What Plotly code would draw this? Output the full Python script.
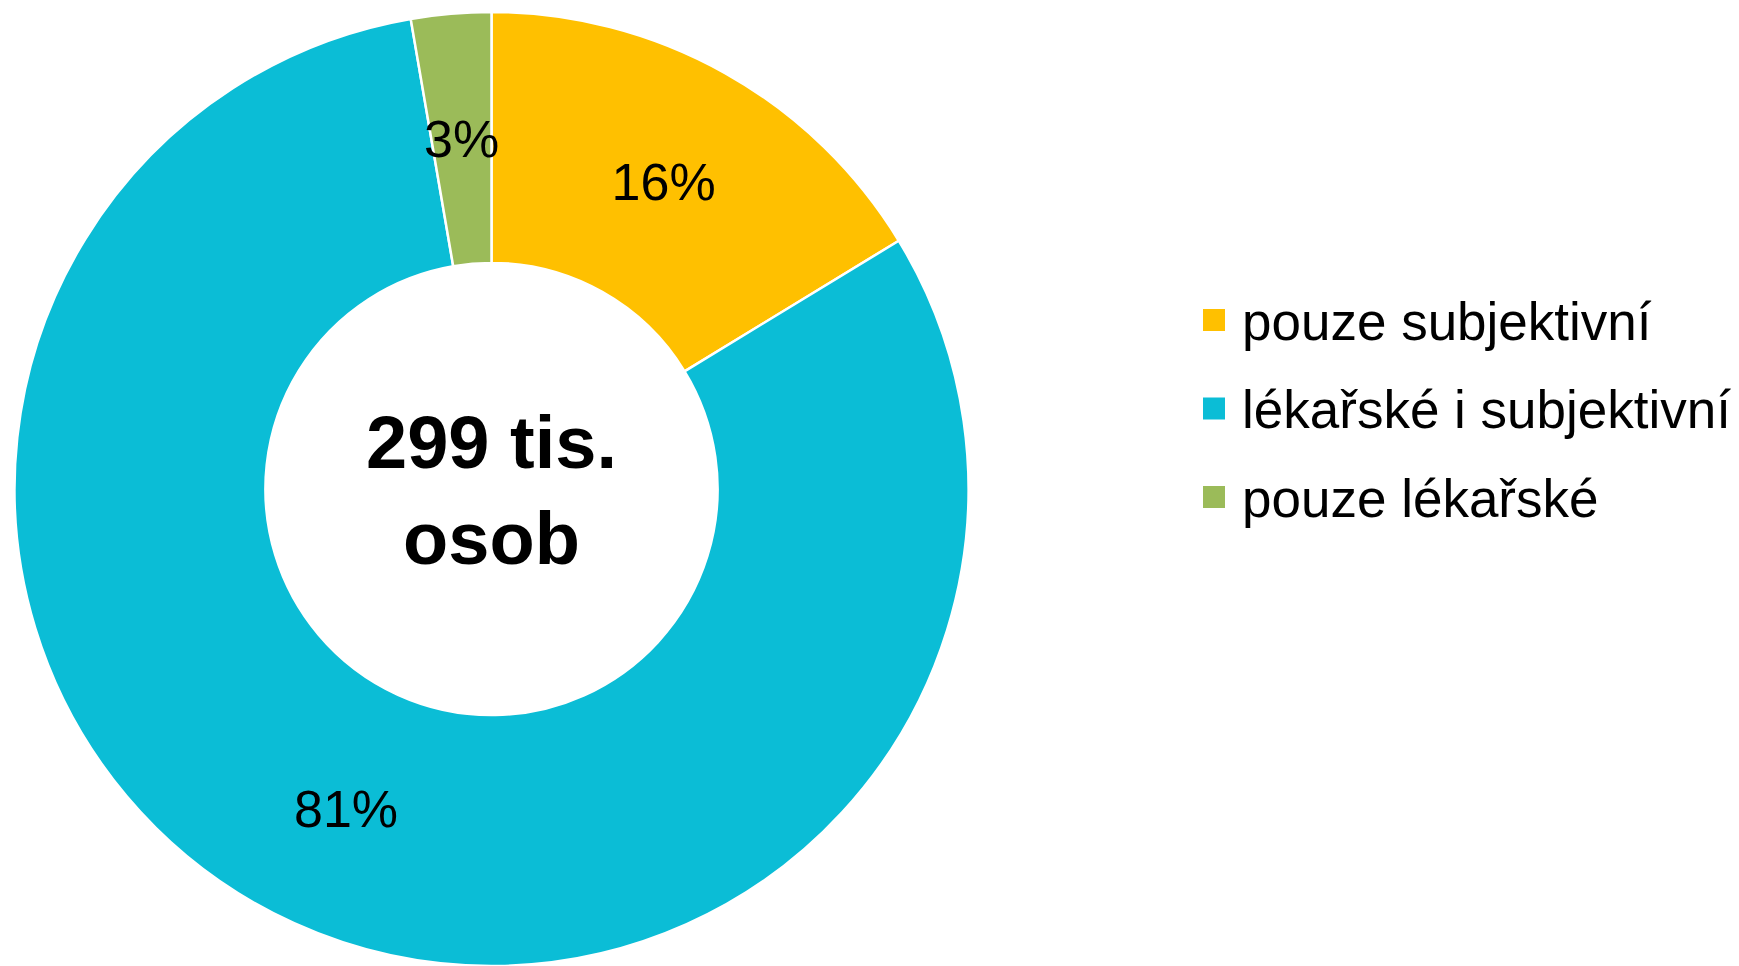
import math
import plotly.graph_objects as go

# Data (thousands of persons)
labels = ["pouze subjektivní", "lékařské i subjektivní", "pouze lékařské"]
values = [48.7, 242.2, 8.1]
colors = ["#FFC000", "#0BBDD6", "#9BBB59"]
center_text = "<b>299 tis.</b><br><b>osob</b>"

# The page body has an 8px margin; the figure is sized to fill the rest.
OFF = 8
W, H = 1739 - OFF, 966 - OFF
FONT = "Arial, Liberation Sans, sans-serif"
HOLE = 0.474

# pie geometry (paper pixels)
R = 477
CX, CY = 491.5 - OFF, 4 + R

fig = go.Figure()
total = sum(values)
# small slice label is placed manually at slice mid-radius (plotly pushes it outward)
templates = ["%{percent:.0%}" if v / total > 0.05 else "" for v in values]
fig.add_trace(go.Pie(
    labels=labels,
    values=values,
    hole=HOLE,
    sort=False,
    direction="clockwise",
    rotation=0,
    marker=dict(colors=colors, line=dict(color="white", width=2.5)),
    texttemplate=templates,
    textposition="inside",
    insidetextorientation="horizontal",
    textfont=dict(family=FONT, size=52, color="black"),
    domain=dict(x=[(CX - R) / W, (CX + R) / W], y=[1 - (CY + R) / H, 1 - (CY - R) / H]),
    showlegend=False,
    hoverinfo="label+value+percent",
))

annotations = []
cum = 0.0
for v in values:
    mid = (cum + v / 2) / total
    cum += v
    if v / total > 0.05:
        continue
    th = 2 * math.pi * mid
    r = R * (1 + HOLE) / 2
    px = CX + r * math.sin(th)
    py = CY - r * math.cos(th)
    annotations.append(dict(
        text=f"{round(100 * v / total)}%", xref="paper", yref="paper",
        x=px / W, y=1 - py / H, xanchor="center", yanchor="middle",
        showarrow=False, font=dict(family=FONT, size=52, color="black"),
    ))

# Custom legend
row_y = [320 - OFF, 408.5 - OFF, 497 - OFF]
sq = 22
shapes = []
for lab, col, yc in zip(labels, colors, row_y):
    shapes.append(dict(
        type="rect", xref="paper", yref="paper",
        x0=(1203 - OFF) / W, x1=(1203 - OFF + sq) / W,
        y0=1 - (yc + sq / 2) / H, y1=1 - (yc - sq / 2) / H,
        fillcolor=col, line=dict(width=0),
    ))
    annotations.append(dict(
        text=lab, xref="paper", yref="paper",
        x=(1240 - OFF) / W, y=1 - (yc + 1) / H, xanchor="left", yanchor="middle",
        showarrow=False, font=dict(family=FONT, size=53, color="black"),
    ))

annotations.append(dict(
    text=center_text, xref="paper", yref="paper",
    x=CX / W, y=1 - (491 - OFF) / H, xanchor="center", yanchor="middle",
    showarrow=False, font=dict(family=FONT, size=74, color="black"),
))

fig.update_layout(
    width=W, height=H,
    margin=dict(l=0, r=0, t=0, b=0),
    paper_bgcolor="white", plot_bgcolor="white",
    uniformtext=dict(minsize=52, mode="show"),
    shapes=shapes,
    annotations=annotations,
)

fig.write_html("out.html")
